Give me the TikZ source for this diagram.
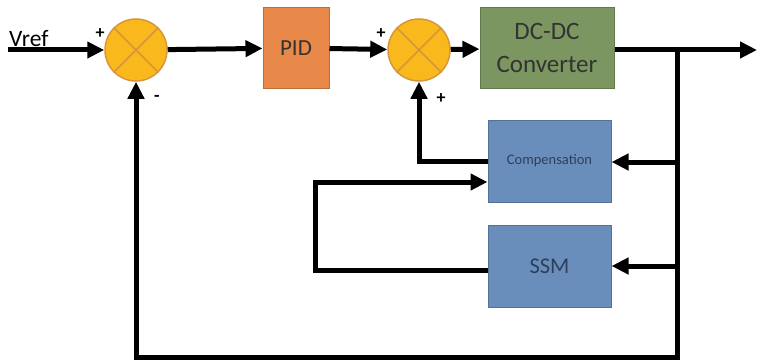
\documentclass[tikz,border=0pt]{standalone}
\usepackage{fontspec}
\setmainfont{Carlito}
\usetikzlibrary{arrows.meta, positioning}

\begin{document}
\begin{tikzpicture}[x=1pt, y=-1pt, line join=miter,
    %Style
    signal/.style={line width=5pt, -{Triangle[length=17pt,width=16pt]}},
    summer/.style={circle, draw=sumline, fill=sumfill, line width=1.5pt, minimum size=62pt, inner sep=0pt},
    block/.style={draw=#1!80!black, fill=#1, line width=1pt, inner sep=0pt, text=black!80},
    sign/.style={font=\fontsize{18}{18}\selectfont\bfseries, inner sep=0pt}]
    %Colors
    \definecolor{sumfill}{HTML}{F9B81C}
    \definecolor{sumline}{HTML}{D8963A}
    \definecolor{pidcolor}{HTML}{E8894A}
    \definecolor{convcolor}{HTML}{7B9661}
    \definecolor{estcolor}{HTML}{6A8EBB}
    \definecolor{navytext}{HTML}{2E3F5C}

    \useasboundingbox (0,0) rectangle (757,361);

    %The blocks
    \node[summer] (sumA) at (136,50) {};
    \node[block=pidcolor, minimum width=66pt, minimum height=81pt,
      font=\fontsize{23}{23}\selectfont] (pid) at (296,48) {PID};
    \node[summer] (sumB) at (419,50) {};
    \node[block=convcolor, minimum width=134pt, minimum height=81pt, align=center,
      font=\fontsize{25}{33}\selectfont] (conv) at (547,48) {DC-DC\\Converter};
    \node[block=estcolor, minimum width=123pt, minimum height=82pt,
      font=\fontsize{14.5}{14.5}\selectfont, text=navytext] (comp) at (549.5,161) {Compensation};
    \node[block=estcolor, minimum width=123pt, minimum height=82pt,
      font=\fontsize{22.5}{22.5}\selectfont, text=navytext] (ssm) at (549.5,266) {SSM};

    \foreach \s in {sumA, sumB} {
      \draw[sumline, line width=1.5pt] (\s.north west) -- (\s.south east);
      \draw[sumline, line width=1.5pt] (\s.north east) -- (\s.south west);
    }

    %Signs
    \node[sign] (pA) at (100,34) {+};
    \node[sign] (mA) at (157,98) {-};
    \node[sign] (pB) at (381,34) {+};
    \node[sign] (pC) at (441,99) {+};

    %Connectors
    \coordinate (vref) at (8,50);
    \coordinate (out) at (757,50);
    \coordinate (branch) at (677,50);
    \coordinate (bottom) at (677,357);
    \node[font=\fontsize{23.5}{23.5}\selectfont, inner sep=0pt, anchor=base west] (vreftext) at (9,47) {Vref};

    \draw[signal] (vref) -- (sumA);
    \draw[signal] (sumA) -- (pid);
    \draw[signal] (pid) -- (sumB);
    \draw[signal] (sumB) -- (conv);
    \draw[signal] (conv.east |- out) -- (out);
    \draw[signal] (branch) -- (bottom) -| (sumA);
    \draw[signal] ([yshift=-1pt]comp.east -| branch) -- ([yshift=-1pt]comp.east);
    \draw[signal] (ssm.east -| branch) -- (ssm.east);
    \draw[signal] (comp.west) -| (sumB);
    \draw[signal] ([yshift=-4pt]ssm.west) -- ++(-172,0) |- ([yshift=-21pt]comp.west);
\end{tikzpicture}
\end{document}
